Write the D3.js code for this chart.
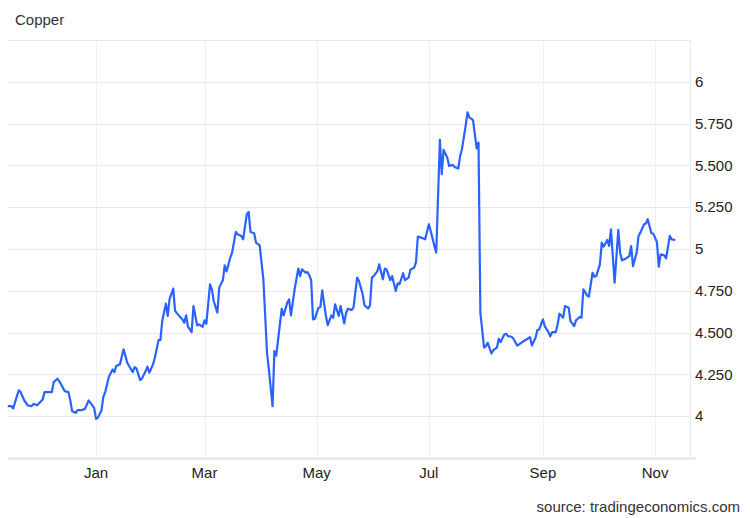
<!DOCTYPE html>
<html>
<head>
<meta charset="utf-8">
<script src="https://cdn.jsdelivr.net/npm/d3@7"></script>
<style>
  body { margin: 0; background: #fff; }
  svg { font-family: "Liberation Sans", Arial, sans-serif; }
  .grid line { stroke: #e8e8e8; stroke-width: 1; }
  .vgrid line { stroke: #edf1f4; stroke-width: 1; }
  .tick-label { fill: #222; font-size: 15px; }
</style>
</head>
<body>
<svg width="750" height="518"></svg>
<script>
// copper futures, USD/lb
const dates = [
  "2024-11-14","2024-11-16","2024-11-17","2024-11-19","2024-11-20","2024-11-21","2024-11-23","2024-11-25",
  "2024-11-27","2024-11-28","2024-11-30","2024-12-02","2024-12-03","2024-12-04","2024-12-08","2024-12-09",
  "2024-12-11","2024-12-12","2024-12-15","2024-12-17","2024-12-18","2024-12-19","2024-12-21","2024-12-22",
  "2024-12-24","2024-12-26","2024-12-28","2024-12-29","2024-12-31","2025-01-01","2025-01-02","2025-01-04",
  "2025-01-05","2025-01-06","2025-01-08","2025-01-10","2025-01-11","2025-01-12","2025-01-14","2025-01-16",
  "2025-01-18","2025-01-19","2025-01-21","2025-01-22","2025-01-23","2025-01-25","2025-01-26","2025-01-28",
  "2025-01-29","2025-01-30","2025-02-01","2025-02-02","2025-02-04","2025-02-05","2025-02-06","2025-02-08",
  "2025-02-09","2025-02-10","2025-02-12","2025-02-13","2025-02-15","2025-02-17","2025-02-18","2025-02-19",
  "2025-02-20","2025-02-22","2025-02-23","2025-02-25","2025-02-26","2025-02-28","2025-03-01","2025-03-02",
  "2025-03-04","2025-03-05","2025-03-06","2025-03-08","2025-03-09","2025-03-11","2025-03-12","2025-03-13",
  "2025-03-15","2025-03-16","2025-03-18","2025-03-19","2025-03-21","2025-03-22","2025-03-24","2025-03-25",
  "2025-03-26","2025-03-28","2025-03-29","2025-03-31","2025-04-02","2025-04-04","2025-04-05","2025-04-07",
  "2025-04-08","2025-04-09","2025-04-11","2025-04-12","2025-04-13","2025-04-15","2025-04-16","2025-04-17",
  "2025-04-19","2025-04-21","2025-04-22","2025-04-23","2025-04-25","2025-04-26","2025-04-27","2025-04-28",
  "2025-04-29","2025-04-30","2025-05-02","2025-05-03","2025-05-04","2025-05-06","2025-05-07","2025-05-09",
  "2025-05-10","2025-05-11","2025-05-13","2025-05-14","2025-05-16","2025-05-17","2025-05-18","2025-05-20",
  "2025-05-21","2025-05-23","2025-05-24","2025-05-26","2025-05-27","2025-05-29","2025-05-30","2025-05-31",
  "2025-06-01","2025-06-03","2025-06-04","2025-06-06","2025-06-07","2025-06-08","2025-06-10","2025-06-11",
  "2025-06-13","2025-06-14","2025-06-15","2025-06-17","2025-06-18","2025-06-20","2025-06-21","2025-06-23",
  "2025-06-24","2025-06-25","2025-06-27","2025-06-29","2025-07-01","2025-07-02","2025-07-04","2025-07-05",
  "2025-07-07","2025-07-08","2025-07-09","2025-07-11","2025-07-12","2025-07-14","2025-07-15","2025-07-17",
  "2025-07-18","2025-07-19","2025-07-21","2025-07-22","2025-07-23","2025-07-25","2025-07-27","2025-07-28",
  "2025-07-29","2025-07-31","2025-08-01","2025-08-02","2025-08-04","2025-08-05","2025-08-07","2025-08-08",
  "2025-08-09","2025-08-11","2025-08-12","2025-08-13","2025-08-15","2025-08-16","2025-08-18","2025-08-19",
  "2025-08-21","2025-08-23","2025-08-25","2025-08-26","2025-08-28","2025-08-29","2025-08-30","2025-09-01",
  "2025-09-02","2025-09-04","2025-09-05","2025-09-06","2025-09-08","2025-09-09","2025-09-10","2025-09-12",
  "2025-09-13","2025-09-15","2025-09-16","2025-09-18","2025-09-19","2025-09-21","2025-09-22","2025-09-23",
  "2025-09-25","2025-09-26","2025-09-28","2025-09-29","2025-09-30","2025-10-02","2025-10-03","2025-10-04",
  "2025-10-06","2025-10-07","2025-10-08","2025-10-10","2025-10-12","2025-10-13","2025-10-14","2025-10-16",
  "2025-10-18","2025-10-19","2025-10-20","2025-10-22","2025-10-23","2025-10-24","2025-10-26","2025-10-27",
  "2025-10-28","2025-10-30","2025-10-31","2025-11-02","2025-11-03","2025-11-04","2025-11-06","2025-11-07",
  "2025-11-09","2025-11-10","2025-11-12"
];
const prices = [
  4.06,4.06,4.046,4.12,4.155,4.145,4.094,4.064,
  4.06,4.074,4.066,4.088,4.10,4.144,4.144,4.204,
  4.224,4.21,4.15,4.144,4.096,4.03,4.02,4.036,
  4.036,4.044,4.094,4.08,4.05,3.984,3.99,4.036,
  4.116,4.144,4.236,4.28,4.264,4.30,4.31,4.40,
  4.32,4.30,4.264,4.293,4.286,4.216,4.226,4.27,
  4.296,4.26,4.31,4.35,4.455,4.455,4.569,4.673,
  4.60,4.70,4.763,4.63,4.603,4.579,4.559,4.603,
  4.535,4.503,4.659,4.543,4.549,4.535,4.573,4.553,
  4.789,4.759,4.689,4.619,4.769,4.814,4.902,4.866,
  4.948,4.978,5.102,5.088,5.078,5.058,5.208,5.222,
  5.102,5.094,5.038,5.022,4.819,4.38,4.28,4.06,
  4.389,4.363,4.549,4.643,4.603,4.679,4.699,4.603,
  4.759,4.883,4.838,4.878,4.858,4.862,4.843,4.814,
  4.579,4.583,4.649,4.653,4.753,4.60,4.545,4.603,
  4.589,4.669,4.60,4.659,4.555,4.619,4.643,4.635,
  4.649,4.829,4.809,4.729,4.663,4.645,4.663,4.829,
  4.838,4.868,4.908,4.819,4.883,4.878,4.813,4.838,
  4.749,4.795,4.789,4.855,4.814,4.829,4.878,4.888,
  4.922,5.074,5.068,5.058,5.148,5.108,5.018,4.978,
  5.653,5.447,5.593,5.547,5.497,5.503,5.491,5.481,
  5.557,5.597,5.737,5.817,5.787,5.771,5.601,5.637,
  4.619,4.41,4.419,4.439,4.375,4.395,4.41,4.463,
  4.443,4.489,4.493,4.479,4.475,4.463,4.423,4.429,
  4.445,4.459,4.473,4.423,4.469,4.515,4.519,4.579,
  4.539,4.503,4.477,4.503,4.503,4.549,4.613,4.589,
  4.659,4.649,4.569,4.539,4.573,4.593,4.589,4.759,
  4.723,4.715,4.858,4.834,4.838,4.908,5.038,5.014,
  5.054,5.018,5.118,4.799,5.114,4.978,4.932,4.942,
  4.958,5.018,4.898,4.978,5.078,5.098,5.148,5.152,
  5.178,5.094,5.092,5.042,4.894,4.968,4.962,4.944,
  5.078,5.058,5.054
];
const yTicks = [4, 4.25, 4.5, 4.75, 5, 5.25, 5.5, 5.75, 6];
const yTickLabels = ["4", "4.250", "4.500", "4.750", "5", "5.250", "5.500", "5.750", "6"];
const monthTicks = ["2025-01-01", "2025-03-01", "2025-05-01", "2025-07-01", "2025-09-01", "2025-11-01"];
const monthLabels = ["Jan", "Mar", "May", "Jul", "Sep", "Nov"];

const svg = d3.select("svg");
const plotLeft = 8, plotRight = 688, plotTop = 40, plotBottom = 458;

const parse = d3.utcParse("%Y-%m-%d");
const data = dates.map((d, i) => ({date: parse(d), value: prices[i]}));

const x = d3.scaleUtc()
    .domain([new Date(Date.UTC(2024, 10, 14, 3, 36)), new Date(Date.UTC(2025, 10, 18, 21, 36))])
    .range([plotLeft, plotRight]);
const y = d3.scaleLinear()
    .domain([3.75, 6.25])
    .range([plotBottom, plotTop]);

// horizontal grid (incl. top border at 6.25)
svg.append("g").attr("class", "grid")
  .selectAll("line")
  .data(yTicks.concat([6.25]))
  .enter().append("line")
    .attr("x1", plotLeft).attr("x2", plotRight + 2)
    .attr("y1", d => Math.round(y(d)) + 0.5)
    .attr("y2", d => Math.round(y(d)) + 0.5);

// vertical grid at month ticks + right border
svg.append("g").attr("class", "vgrid")
  .selectAll("line")
  .data(monthTicks.map(parse))
  .enter().append("line")
    .attr("x1", d => Math.round(x(d)) + 0.5)
    .attr("x2", d => Math.round(x(d)) + 0.5)
    .attr("y1", plotTop).attr("y2", plotBottom);

svg.append("line")
    .attr("x1", plotRight + 2.5).attr("x2", plotRight + 2.5)
    .attr("y1", plotTop).attr("y2", plotBottom)
    .attr("stroke", "#e8e8e8");

// x axis baseline
svg.append("line")
    .attr("x1", plotLeft).attr("x2", plotRight + 8)
    .attr("y1", plotBottom + 0.5).attr("y2", plotBottom + 0.5)
    .attr("stroke", "#e3e3e3")
    .attr("stroke-width", 2);

// y labels on the right
svg.append("g")
  .selectAll("text")
  .data(yTicks)
  .enter().append("text")
    .attr("class", "tick-label")
    .attr("x", 695)
    .attr("y", d => y(d))
    .attr("dy", "0.35em")
    .text((d, i) => yTickLabels[i]);

// month labels
svg.append("g")
  .selectAll("text")
  .data(monthTicks)
  .enter().append("text")
    .attr("class", "tick-label")
    .attr("x", d => x(parse(d)))
    .attr("y", 478)
    .attr("text-anchor", "middle")
    .text((d, i) => monthLabels[i]);

const line = d3.line()
    .x(d => x(d.date))
    .y(d => y(d.value));

svg.append("path")
    .datum(data)
    .attr("fill", "none")
    .attr("stroke", "#2962ff")
    .attr("stroke-width", 2.2)
    .attr("stroke-linejoin", "round")
    .attr("d", line);

svg.append("text")
    .attr("x", 15).attr("y", 25)
    .attr("fill", "#333")
    .style("font-size", "15px")
    .text("Copper");

svg.append("text")
    .attr("x", 740).attr("y", 512)
    .attr("text-anchor", "end")
    .attr("fill", "#333")
    .style("font-size", "15px")
    .text("source: tradingeconomics.com");
</script>
</body>
</html>
